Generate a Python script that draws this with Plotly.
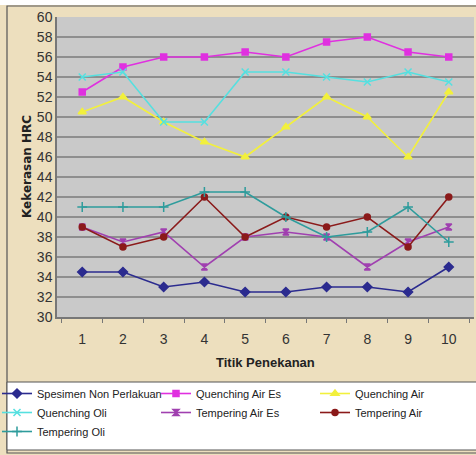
import plotly.graph_objects as go

categories = ["1", "2", "3", "4", "5", "6", "7", "8", "9", "10"]
non_perlakuan = [34.5, 34.5, 33, 33.5, 32.5, 32.5, 33, 33, 32.5, 35]
quench_air_es = [52.5, 55, 56, 56, 56.5, 56, 57.5, 58, 56.5, 56]
quench_air = [50.5, 52, 49.5, 47.5, 46, 49, 52, 50, 46, 52.5]
quench_oli = [54, 54.5, 49.5, 49.5, 54.5, 54.5, 54, 53.5, 54.5, 53.5]
temper_air_es = [39, 37.5, 38.5, 35, 38, 38.5, 38, 35, 37.5, 39]
temper_air = [39, 37, 38, 42, 38, 40, 39, 40, 37, 42]
temper_oli = [41, 41, 41, 42.5, 42.5, 40, 38, 38.5, 41, 37.5]
y_ticks = list(range(30, 61, 2))

series = [
    ("Spesimen Non Perlakuan", non_perlakuan, "#2B2B8F", "diamond", 7),
    ("Quenching Air Es", quench_air_es, "#E030E0", "square", 6),
    ("Quenching Air", quench_air, "#F2F03C", "triangle-up", 7),
    ("Quenching Oli", quench_oli, "#55E0E0", "x-thin-open", 7),
    ("Tempering Air Es", temper_air_es, "#A040B0", "hourglass", 6),
    ("Tempering Air", temper_air, "#8B1A1A", "circle", 6),
    ("Tempering Oli", temper_oli, "#2E9C9C", "cross-thin-open", 7),
]

W, H = 476, 455
L, R, T, B = 57, 474, 17, 317

def px(p):
    return (p - L) / (R - L)

def py(p):
    return (B - p) / (B - T)

fig = go.Figure()
for name, vals, col, sym, sz in series:
    fig.add_trace(go.Scatter(
        x=categories, y=vals, name=name, mode="lines+markers",
        line=dict(color=col, width=1.6),
        marker=dict(symbol=sym, size=sz, color=col, line=dict(color=col, width=1.5)),
    ))

FONT = "Liberation Sans, Arial, sans-serif"
tick_font = dict(family=FONT, size=14, color="#333333")

fig.update_layout(
    width=W, height=H,
    margin=dict(l=L, r=W - R, t=T, b=H - B, autoexpand=False),
    paper_bgcolor="#EDDFBE",
    plot_bgcolor="#C9C9C9",
    showlegend=True,
    legend=dict(
        orientation="h", xref="paper", yref="paper",
        x=px(-3), y=py(379), xanchor="left", yanchor="top",
        entrywidthmode="pixels", entrywidth=114, itemwidth=30,
        bgcolor="rgba(0,0,0,0)", tracegroupgap=0,
        font=dict(family=FONT, size=11, color="#222222"),
    ),
    xaxis=dict(
        type="category", tickfont=tick_font, showgrid=False,
        showline=True, linecolor="#777777", linewidth=1.5,
        ticks="outside", tickson="boundaries", ticklen=4, tickcolor="#777777",
        ticklabelstandoff=8, automargin=False,
    ),
    yaxis=dict(
        range=[30, 60], tickvals=y_ticks, tickfont=tick_font,
        showgrid=True, gridcolor="#8E8E8E", gridwidth=1.5,
        showline=True, linecolor="#777777", linewidth=1.5,
        ticks="", zeroline=False, automargin=False,
    ),
    shapes=[
        dict(type="rect", xref="paper", yref="paper",
             x0=px(0), x1=px(W), y0=py(0), y1=py(5),
             fillcolor="white", line=dict(width=0), layer="below"),
        dict(type="rect", xref="paper", yref="paper",
             x0=px(7), x1=px(W + 5), y0=py(6), y1=py(H - 2),
             fillcolor="rgba(0,0,0,0)", line=dict(color="#555555", width=1.2), layer="below"),
        dict(type="rect", xref="paper", yref="paper",
             x0=px(7), x1=px(W + 5), y0=py(382), y1=py(450),
             fillcolor="white", line=dict(color="#555555", width=1), layer="below"),
    ],
    annotations=[
        dict(text="Kekerasan HRC", xref="paper", yref="paper",
             x=px(27), y=py(167), xanchor="center", yanchor="middle",
             textangle=-90, showarrow=False,
             font=dict(family="DejaVu Sans", size=12, color="#222222", weight="bold")),
        dict(text="Titik Penekanan", xref="paper", yref="paper",
             x=0.5, y=py(362), xanchor="center", yanchor="middle", showarrow=False,
             font=dict(family=FONT, size=13, color="#222222", weight="bold")),
    ],
)

fig.write_html("out.html", config={"displayModeBar": False},
               post_script="document.body.style.margin='0';document.body.style.padding='0';")
